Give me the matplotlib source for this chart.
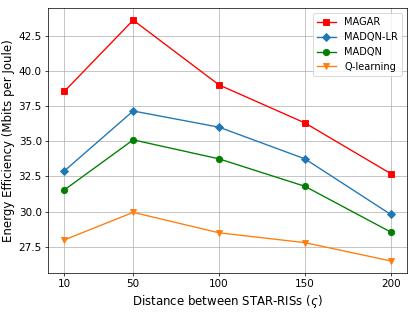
import matplotlib
matplotlib.use("Agg")
import matplotlib.pyplot as plt

distances = [10, 50, 100, 150, 200]
magar = [38.55, 43.6, 39.0, 36.3, 32.7]
madqn_lr = [32.9, 37.15, 36.0, 33.75, 29.8]
madqn = [31.55, 35.1, 33.75, 31.8, 28.55]
q_learning = [28.0, 29.95, 28.5, 27.8, 26.5]

fig = plt.figure(figsize=(6.385, 4.8), dpi=65)
ax = fig.add_subplot(111)

ax.plot(distances, magar, color='red', marker='s', markersize=7, label='MAGAR')
ax.plot(distances, madqn_lr, color='tab:blue', marker='D', markersize=7, label='MADQN-LR')
ax.plot(distances, madqn, color='green', marker='o', markersize=7, label='MADQN')
ax.plot(distances, q_learning, color='tab:orange', marker='v', markersize=7, label='Q-learning')

ax.set_xticks(distances)
ax.set_xlabel(r'Distance between STAR-RISs ($\varsigma$)', fontsize=13)
ax.set_ylabel('Energy Efficiency (Mbits per Joule)', fontsize=13)
ax.tick_params(labelsize=11.5)
ax.grid(True)
ax.legend(loc='upper right', fontsize=11)

fig.subplots_adjust(left=0.116, right=0.981, top=0.974, bottom=0.125)
fig.savefig('out.png')
